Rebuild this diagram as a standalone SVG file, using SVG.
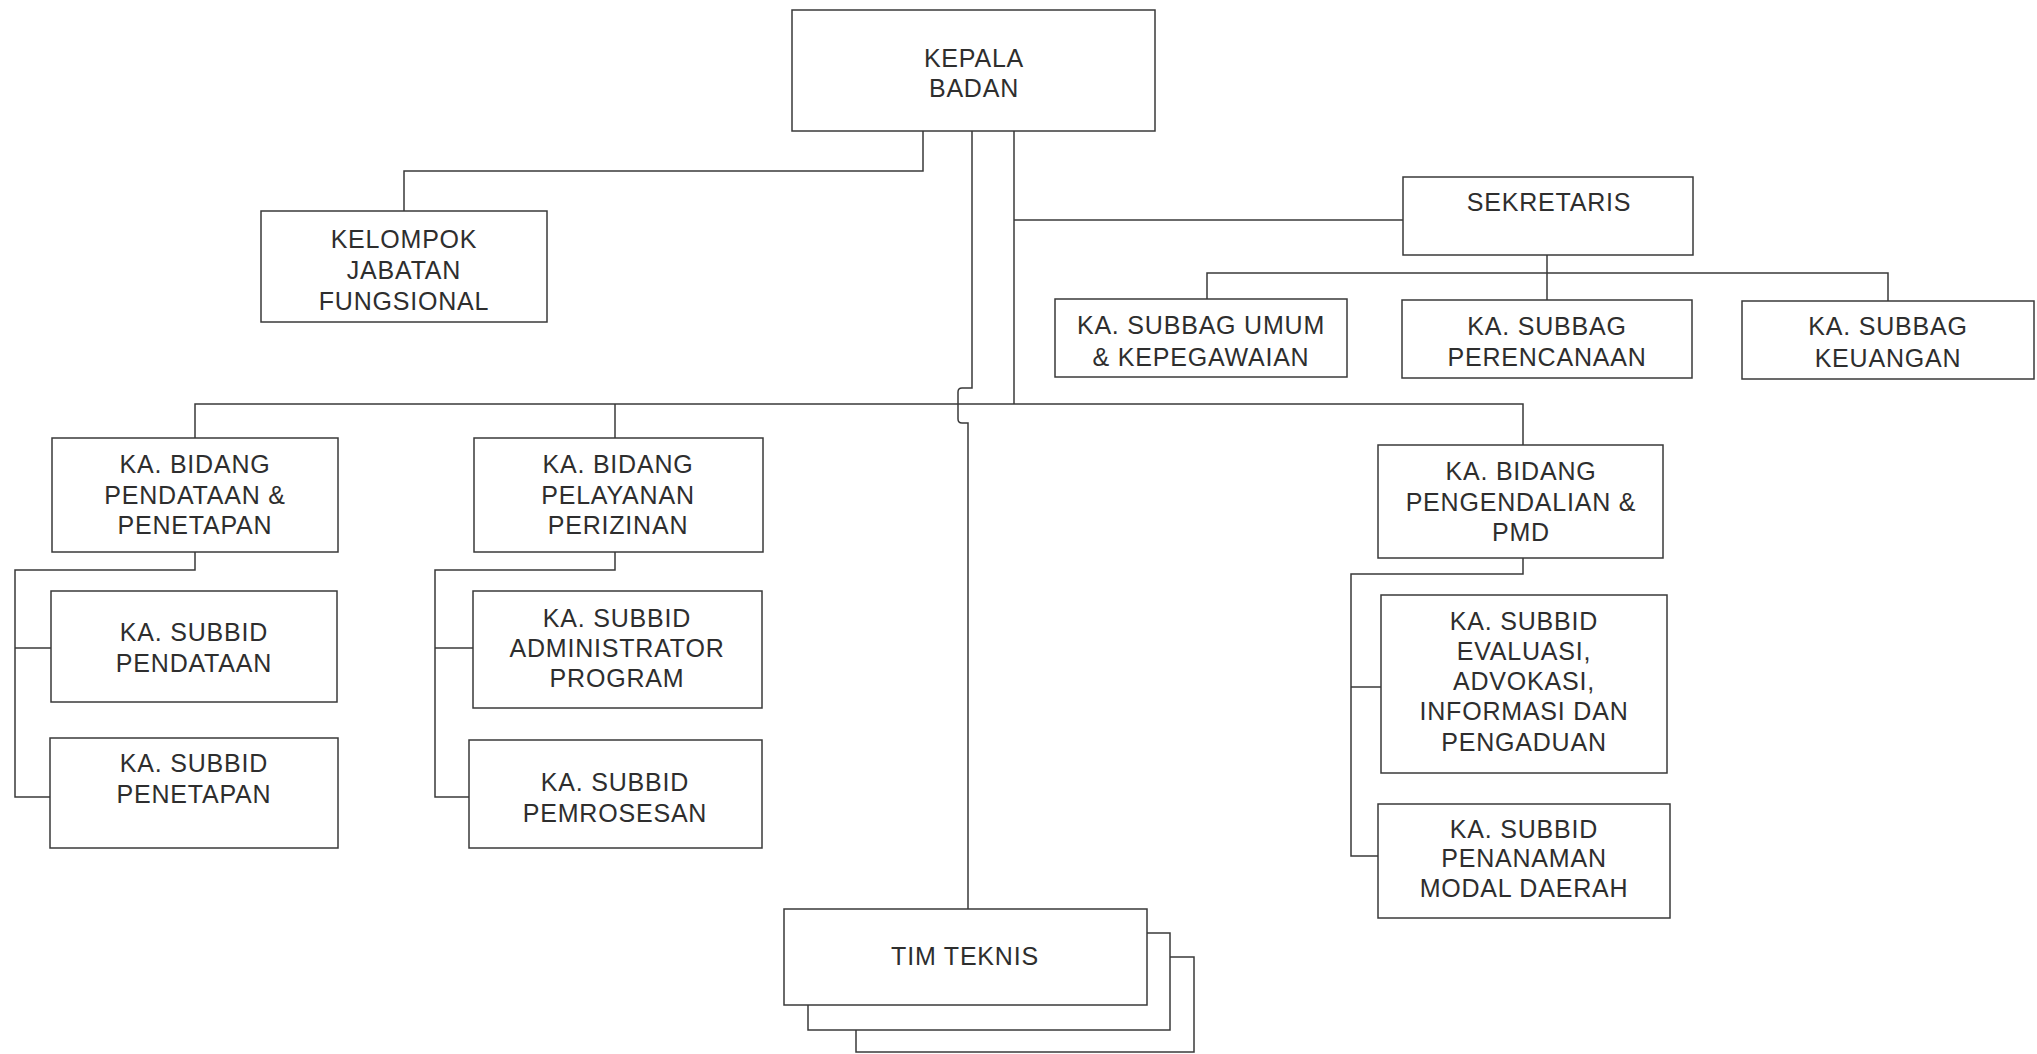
<svg xmlns="http://www.w3.org/2000/svg" width="2037" height="1054" viewBox="0 0 2037 1054">
<style>
.box{fill:#fff;stroke:#3a3a3a;stroke-width:1.5}
.ln{fill:none;stroke:#3a3a3a;stroke-width:1.5}
text{font-family:"Liberation Sans",Arial,sans-serif;font-size:25px;letter-spacing:0.8px;fill:#2e2e2e;text-anchor:middle}
</style>
<rect width="2037" height="1054" fill="#fff"/>
<g id="connectors">
<path class="ln" d="M923 131 V171 H404 V211"/>
<path class="ln" d="M972 131 V388 H962 Q958 388 958 392 V419 Q958 423 962 423 H968 V909"/>
<path class="ln" d="M1014 131 V404"/>
<path class="ln" d="M1014 220 H1403"/>
<path class="ln" d="M1547 255 V273"/>
<path class="ln" d="M1207 299 V273 H1888 V301"/>
<path class="ln" d="M1547 273 V300"/>
<path class="ln" d="M195 438 V404 H1523 V445"/>
<path class="ln" d="M615 404 V438"/>
<path class="ln" d="M195 552 V570 H15 V797 H50"/>
<path class="ln" d="M15 648 H51"/>
<path class="ln" d="M615 552 V570 H435 V797 H469"/>
<path class="ln" d="M435 648 H473"/>
<path class="ln" d="M1523 558 V574 H1351 V856 H1378"/>
<path class="ln" d="M1351 687 H1381"/>
</g>
<g id="kepala-badan">
<rect class="box" x="792" y="10" width="363" height="121"/>
<text x="974" y="67">KEPALA</text>
<text x="974" y="97">BADAN</text>
</g>
<g id="kelompok-jabatan-fungsional">
<rect class="box" x="261" y="211" width="286" height="111"/>
<text x="404" y="248">KELOMPOK</text>
<text x="404" y="279">JABATAN</text>
<text x="404" y="310">FUNGSIONAL</text>
</g>
<g id="sekretaris">
<rect class="box" x="1403" y="177" width="290" height="78"/>
<text x="1549" y="211">SEKRETARIS</text>
</g>
<g id="subbag-umum">
<rect class="box" x="1055" y="299" width="292" height="78"/>
<text x="1201" y="334">KA. SUBBAG UMUM</text>
<text x="1201" y="366">&amp; KEPEGAWAIAN</text>
</g>
<g id="subbag-perencanaan">
<rect class="box" x="1402" y="300" width="290" height="78"/>
<text x="1547" y="335">KA. SUBBAG</text>
<text x="1547" y="366">PERENCANAAN</text>
</g>
<g id="subbag-keuangan">
<rect class="box" x="1742" y="301" width="292" height="78"/>
<text x="1888" y="335">KA. SUBBAG</text>
<text x="1888" y="367">KEUANGAN</text>
</g>
<g id="bidang-pendataan">
<rect class="box" x="52" y="438" width="286" height="114"/>
<text x="195" y="473">KA. BIDANG</text>
<text x="195" y="504">PENDATAAN &amp;</text>
<text x="195" y="534">PENETAPAN</text>
</g>
<g id="subbid-pendataan">
<rect class="box" x="51" y="591" width="286" height="111"/>
<text x="194" y="641">KA. SUBBID</text>
<text x="194" y="672">PENDATAAN</text>
</g>
<g id="subbid-penetapan">
<rect class="box" x="50" y="738" width="288" height="110"/>
<text x="194" y="772">KA. SUBBID</text>
<text x="194" y="803">PENETAPAN</text>
</g>
<g id="bidang-pelayanan">
<rect class="box" x="474" y="438" width="289" height="114"/>
<text x="618" y="473">KA. BIDANG</text>
<text x="618" y="504">PELAYANAN</text>
<text x="618" y="534">PERIZINAN</text>
</g>
<g id="subbid-administrator">
<rect class="box" x="473" y="591" width="289" height="117"/>
<text x="617" y="627">KA. SUBBID</text>
<text x="617" y="657">ADMINISTRATOR</text>
<text x="617" y="687">PROGRAM</text>
</g>
<g id="subbid-pemrosesan">
<rect class="box" x="469" y="740" width="293" height="108"/>
<text x="615" y="791">KA. SUBBID</text>
<text x="615" y="822">PEMROSESAN</text>
</g>
<g id="bidang-pengendalian">
<rect class="box" x="1378" y="445" width="285" height="113"/>
<text x="1521" y="480">KA. BIDANG</text>
<text x="1521" y="511">PENGENDALIAN &amp;</text>
<text x="1521" y="541">PMD</text>
</g>
<g id="subbid-evaluasi">
<rect class="box" x="1381" y="595" width="286" height="178"/>
<text x="1524" y="630">KA. SUBBID</text>
<text x="1524" y="660">EVALUASI,</text>
<text x="1524" y="690">ADVOKASI,</text>
<text x="1524" y="720">INFORMASI DAN</text>
<text x="1524" y="751">PENGADUAN</text>
</g>
<g id="subbid-penanaman">
<rect class="box" x="1378" y="804" width="292" height="114"/>
<text x="1524" y="838">KA. SUBBID</text>
<text x="1524" y="867">PENANAMAN</text>
<text x="1524" y="897">MODAL DAERAH</text>
</g>
<g id="tim-teknis">
<rect class="box" x="856" y="957" width="338" height="95"/>
<rect class="box" x="808" y="933" width="362" height="97"/>
<rect class="box" x="784" y="909" width="363" height="96"/>
<text x="965" y="965">TIM TEKNIS</text>
</g>
</svg>
